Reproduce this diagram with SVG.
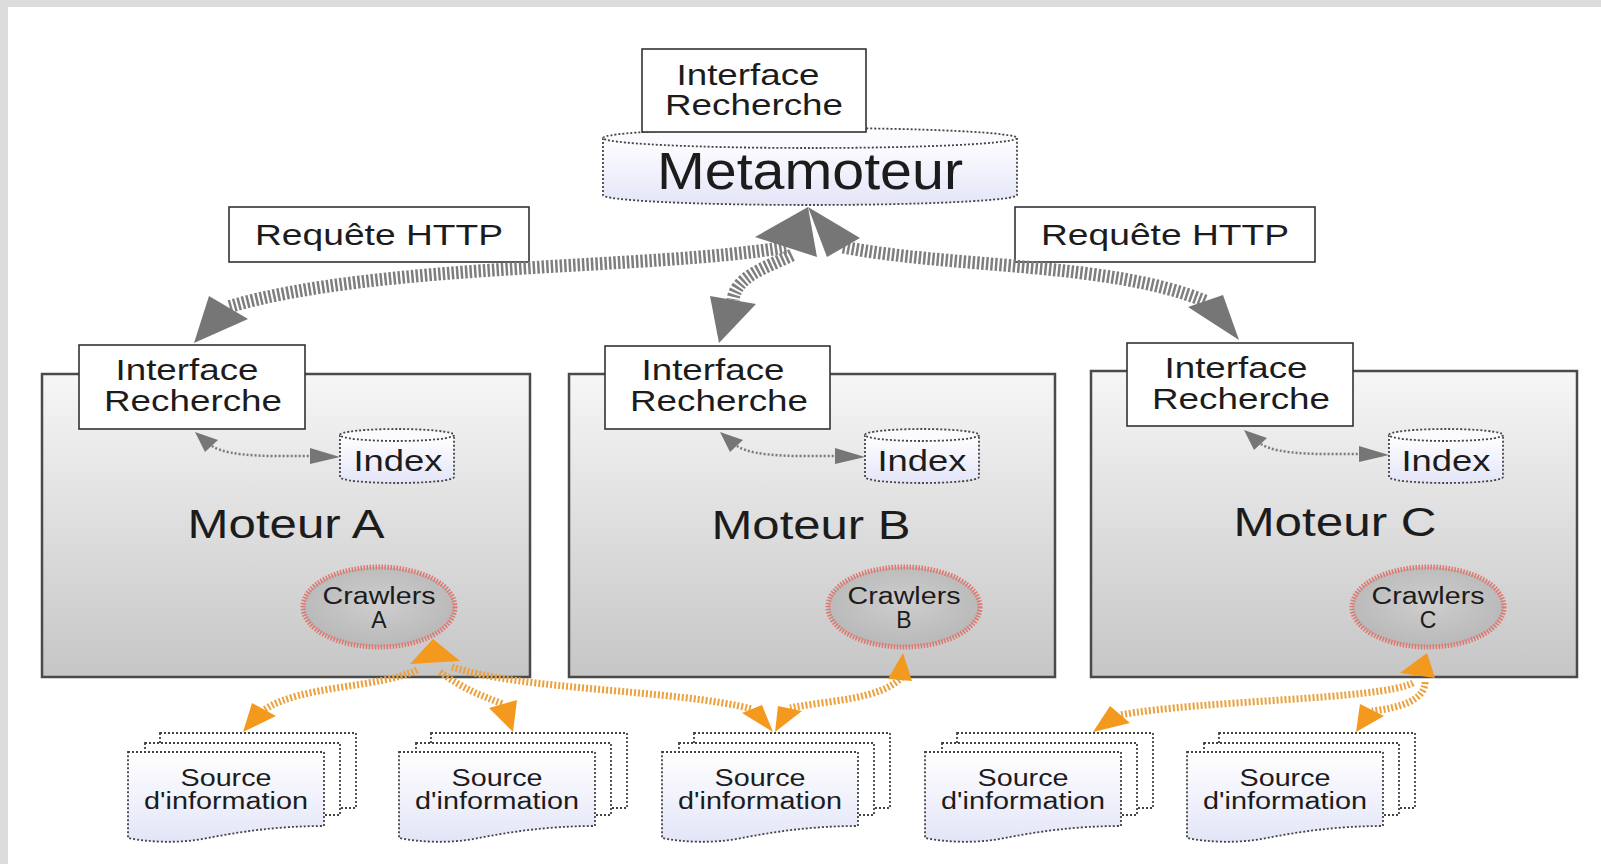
<svg xmlns="http://www.w3.org/2000/svg" xmlns:xlink="http://www.w3.org/1999/xlink" width="1601" height="864" viewBox="0 0 1601 864">
<defs>
<linearGradient id="gEngine" x1="0" y1="0" x2="0" y2="1"><stop offset="0" stop-color="#f6f6f6"/><stop offset="1" stop-color="#c6c6c6"/></linearGradient>
<linearGradient id="gLav" x1="0" y1="0" x2="0" y2="1"><stop offset="0" stop-color="#ffffff"/><stop offset="1" stop-color="#e3e5f8"/></linearGradient>
<radialGradient id="gCrawl" cx="0.5" cy="0.45" r="0.6"><stop offset="0" stop-color="#cecece"/><stop offset="1" stop-color="#b6b6b6"/></radialGradient>
<style>
text{font-family:"Liberation Sans",Arial,sans-serif;fill:#1c1c1c;text-anchor:middle}
.box{fill:#fff;stroke:#333;stroke-width:1.6}
.engine{fill:url(#gEngine);stroke:#4a4a4a;stroke-width:2.5}
.dot{stroke:#444;stroke-width:1.8;stroke-dasharray:2 2}
.crawl{fill:url(#gCrawl);stroke:#e0766c;stroke-width:5;stroke-dasharray:1.5 1.5}
.gspring{fill:none;stroke:#7e7e7e;stroke-width:13;stroke-dasharray:2.5 2}
.ospring{fill:none;stroke:#eba23e;stroke-width:7;stroke-dasharray:2 2}
.ghead{fill:#767676}
.ohead{fill:#f39a1e}
.small{fill:none;stroke:#7a7a7a;stroke-width:2.5;stroke-dasharray:2 2}
.f30{font-size:30px}
.f23{font-size:23px}
</style>
<g id="idxlink">
<path class="small" d="M212,446 C230,458 280,456 313,456"/>
<polygon class="ghead" points="195,432 205,452 218,440"/>
<polygon class="ghead" points="310,448 310,464 340,457"/>
</g>
<g id="stack">
<rect x="32" y="733" width="196" height="75" fill="#fff" class="dot"/>
<rect x="17" y="743" width="195" height="72" fill="#fff" class="dot"/>
<path d="M0,752 H196 V826 C150,826 110,832 80,838 C50,844 20,842 0,838 Z" fill="url(#gLav)" class="dot"/>
</g>
</defs>
<rect width="1601" height="864" fill="#fff"/>
<rect x="0" y="0" width="1601" height="7" fill="#dcdcdc"/>
<rect x="0" y="0" width="8" height="864" fill="#dcdcdc"/>

<g id="metamoteur">
<path d="M603,138 V195 A207,10 0 0 0 1017,195 V138" fill="url(#gLav)" class="dot"/>
<ellipse cx="810" cy="138" rx="207" ry="10" fill="#fafaff" class="dot"/>
<text x="810" y="189" font-size="51" textLength="306" lengthAdjust="spacingAndGlyphs">Metamoteur</text>
</g>
<g id="interface-meta">
<rect class="box" x="642" y="49" width="224" height="83"/>
<text class="f30" x="748" y="85" textLength="143" lengthAdjust="spacingAndGlyphs">Interface</text>
<text class="f30" x="754" y="115" textLength="178" lengthAdjust="spacingAndGlyphs">Recherche</text>
</g>
<g id="requete-left">
<rect class="box" x="229" y="207" width="300" height="55"/>
<text class="f30" x="379" y="245" textLength="248" lengthAdjust="spacingAndGlyphs">Requête HTTP</text>
</g>
<g id="requete-right">
<rect class="box" x="1015" y="207" width="300" height="55"/>
<text class="f30" x="1165" y="245" textLength="248" lengthAdjust="spacingAndGlyphs">Requête HTTP</text>
</g>

<g id="moteur-a">
<rect class="engine" x="42" y="374" width="488" height="303"/>
<rect class="box" x="79" y="345" width="226" height="84"/>
<text class="f30" x="187" y="380" textLength="143" lengthAdjust="spacingAndGlyphs">Interface</text>
<text class="f30" x="193" y="411" textLength="178" lengthAdjust="spacingAndGlyphs">Recherche</text>
<path d="M340,435 V477 A57,6 0 0 0 454,477 V435" fill="url(#gLav)" class="dot"/>
<ellipse cx="397" cy="435" rx="57" ry="6" fill="#fafaff" class="dot"/>
<text class="f30" x="398" y="471" textLength="89" lengthAdjust="spacingAndGlyphs">Index</text>
<text x="286" y="538" font-size="40" textLength="197" lengthAdjust="spacingAndGlyphs">Moteur A</text>
<ellipse class="crawl" cx="379" cy="607" rx="76" ry="40"/>
<text class="f23" x="379" y="604" textLength="113" lengthAdjust="spacingAndGlyphs">Crawlers</text>
<text class="f23" x="379" y="628">A</text>
</g>
<g id="moteur-b">
<rect class="engine" x="569" y="374" width="486" height="303"/>
<rect class="box" x="605" y="346" width="225" height="83"/>
<text class="f30" x="713" y="380" textLength="143" lengthAdjust="spacingAndGlyphs">Interface</text>
<text class="f30" x="719" y="411" textLength="178" lengthAdjust="spacingAndGlyphs">Recherche</text>
<path d="M865,435 V477 A57,6 0 0 0 979,477 V435" fill="url(#gLav)" class="dot"/>
<ellipse cx="922" cy="435" rx="57" ry="6" fill="#fafaff" class="dot"/>
<text class="f30" x="922" y="471" textLength="89" lengthAdjust="spacingAndGlyphs">Index</text>
<text x="811" y="539" font-size="40" textLength="199" lengthAdjust="spacingAndGlyphs">Moteur B</text>
<ellipse class="crawl" cx="904" cy="607" rx="76" ry="40"/>
<text class="f23" x="904" y="604" textLength="113" lengthAdjust="spacingAndGlyphs">Crawlers</text>
<text class="f23" x="904" y="628">B</text>
</g>
<g id="moteur-c">
<rect class="engine" x="1091" y="371" width="486" height="306"/>
<rect class="box" x="1127" y="343" width="226" height="83"/>
<text class="f30" x="1236" y="378" textLength="143" lengthAdjust="spacingAndGlyphs">Interface</text>
<text class="f30" x="1241" y="409" textLength="178" lengthAdjust="spacingAndGlyphs">Recherche</text>
<path d="M1389,435 V477 A57,6 0 0 0 1503,477 V435" fill="url(#gLav)" class="dot"/>
<ellipse cx="1446" cy="435" rx="57" ry="6" fill="#fafaff" class="dot"/>
<text class="f30" x="1446" y="471" textLength="89" lengthAdjust="spacingAndGlyphs">Index</text>
<text x="1335" y="536" font-size="40" textLength="203" lengthAdjust="spacingAndGlyphs">Moteur C</text>
<ellipse class="crawl" cx="1428" cy="607" rx="76" ry="40"/>
<text class="f23" x="1428" y="604" textLength="113" lengthAdjust="spacingAndGlyphs">Crawlers</text>
<text class="f23" x="1428" y="628">C</text>
</g>

<g id="source-1">
<use xlink:href="#stack" href="#stack" x="128"/>
<text class="f23" x="226" y="786" textLength="91" lengthAdjust="spacingAndGlyphs">Source</text>
<text class="f23" x="226" y="809" textLength="164" lengthAdjust="spacingAndGlyphs">d'information</text>
</g>
<g id="source-2">
<use xlink:href="#stack" href="#stack" x="399"/>
<text class="f23" x="497" y="786" textLength="91" lengthAdjust="spacingAndGlyphs">Source</text>
<text class="f23" x="497" y="809" textLength="164" lengthAdjust="spacingAndGlyphs">d'information</text>
</g>
<g id="source-3">
<use xlink:href="#stack" href="#stack" x="662"/>
<text class="f23" x="760" y="786" textLength="91" lengthAdjust="spacingAndGlyphs">Source</text>
<text class="f23" x="760" y="809" textLength="164" lengthAdjust="spacingAndGlyphs">d'information</text>
</g>
<g id="source-4">
<use xlink:href="#stack" href="#stack" x="925"/>
<text class="f23" x="1023" y="786" textLength="91" lengthAdjust="spacingAndGlyphs">Source</text>
<text class="f23" x="1023" y="809" textLength="164" lengthAdjust="spacingAndGlyphs">d'information</text>
</g>
<g id="source-5">
<use xlink:href="#stack" href="#stack" x="1187"/>
<text class="f23" x="1285" y="786" textLength="91" lengthAdjust="spacingAndGlyphs">Source</text>
<text class="f23" x="1285" y="809" textLength="164" lengthAdjust="spacingAndGlyphs">d'information</text>
</g>

<g id="connectors">
<path class="gspring" d="M786,247 C650,270 380,262 228,307"/>
<path class="gspring" d="M792,255 C765,268 736,276 733,300"/>
<path class="gspring" d="M843,247 C950,268 1110,262 1205,301"/>
<polygon class="ghead" points="209,296 248,319 194,343"/>
<polygon class="ghead" points="710,296 756,304 719,343"/>
<polygon class="ghead" points="1188,307 1223,295 1239,340"/>
<polygon class="ghead" points="755,237 808,207 817,257"/>
<polygon class="ghead" points="808,207 827,257 860,238"/>

<use xlink:href="#idxlink" href="#idxlink"/>
<use xlink:href="#idxlink" href="#idxlink" x="525"/>
<use xlink:href="#idxlink" href="#idxlink" x="1049" y="-2"/>

<path class="ospring" d="M417,670 C380,688 300,685 264,710"/>
<path class="ospring" d="M440,672 C465,690 480,695 503,704"/>
<path class="ospring" d="M452,667 C520,690 680,690 752,709"/>
<path class="ospring" d="M902,677 C880,700 830,700 790,708"/>
<path class="ospring" d="M1413,683 C1380,700 1200,700 1120,715"/>
<path class="ospring" d="M1425,682 C1425,700 1400,708 1372,711"/>
<polygon class="ohead" points="410,664 433,639 460,661"/>
<polygon class="ohead" points="888,679 903,653 912,681"/>
<polygon class="ohead" points="1400,673 1427,653 1435,678"/>
<polygon class="ohead" points="252,703 276,716 243,732"/>
<polygon class="ohead" points="489,708 517,700 513,732"/>
<polygon class="ohead" points="742,713 762,705 773,732"/>
<polygon class="ohead" points="778,706 802,711 775,732"/>
<polygon class="ohead" points="1110,706 1130,723 1093,732"/>
<polygon class="ohead" points="1360,704 1384,716 1356,732"/>
</g>
</svg>
